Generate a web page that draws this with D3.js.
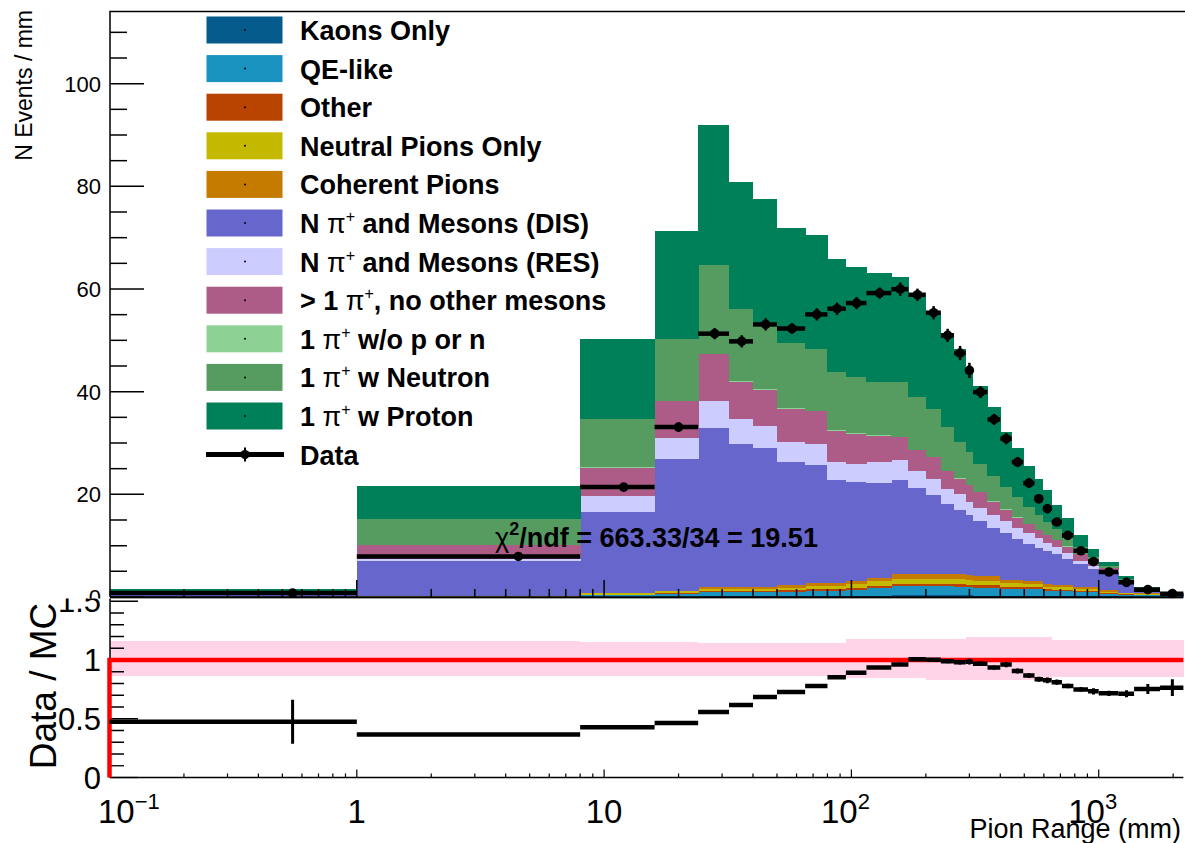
<!DOCTYPE html>
<html>
<head>
<meta charset="utf-8">
<script src="https://cdn.jsdelivr.net/npm/d3@7"></script>
<style>
  body { margin: 0; background: #fff; }
  svg { display: block; font-family: "Liberation Sans", Arial, Helvetica, sans-serif; }
</style>
</head>
<body>
<svg id="chart" width="1185" height="843"></svg>
<script>
// ---- Binning (pion range, mm) ----
const binEdges = [0.1, 1, 8, 16, 24, 32, 40, 50, 65, 80, 95, 115, 145, 170, 200, 230, 260,
  290, 310, 355, 400, 445, 495, 550, 595, 645, 710, 790, 905, 1000, 1200, 1390, 1770, 2200];

// ---- MC components, N events / mm (stacked bottom to top) ----
const kaonsOnly = [0, 0.01, 0.04, 0.05, 0.1, 0.1, 0.1, 0.12, 0.15, 0.15, 0.2, 0.25, 0.3, 0.3, 0.3, 0.3, 0.3,
  0.3, 0.28, 0.28, 0.25, 0.25, 0.25, 0.28, 0.2, 0.2, 0.2, 0.17, 0.17, 0.12, 0.08, 0.08, 0.02];
const qeLike = [0.01, 0.06, 0.3, 0.5, 0.8, 0.8, 0.8, 0.9, 1.0, 1.0, 1.2, 1.5, 1.8, 1.8, 1.75, 1.75, 1.7,
  1.65, 1.55, 1.55, 1.3, 1.3, 1.3, 1.3, 1.0, 0.95, 0.95, 0.75, 0.75, 0.5, 0.35, 0.3, 0.08];
const otherTopo = [0, 0.02, 0.06, 0.3, 0.25, 0.25, 0.25, 0.3, 0.35, 0.35, 0.4, 0.45, 0.45, 0.45, 0.45, 0.45, 0.45,
  0.45, 0.42, 0.42, 0.35, 0.35, 0.35, 0.32, 0.27, 0.27, 0.27, 0.22, 0.2, 0.15, 0.1, 0.1, 0.03];
const neutralPions = [0.01, 0.05, 0.34, 0.25, 0.4, 0.42, 0.42, 0.5, 0.6, 0.6, 0.7, 0.85, 1.0, 1.0, 1.0, 1.0, 1.0,
  0.95, 0.95, 0.95, 0.8, 0.75, 0.7, 0.7, 0.55, 0.52, 0.52, 0.45, 0.43, 0.3, 0.2, 0.18, 0.05];
const coherentPions = [0, 0.01, 0.04, 0.07, 0.33, 0.33, 0.33, 0.45, 0.56, 0.56, 0.6, 0.72, 0.93, 0.93, 0.98, 0.98, 1.0,
  0.95, 0.9, 0.9, 0.6, 0.6, 0.6, 0.6, 0.48, 0.46, 0.46, 0.36, 0.35, 0.23, 0.12, 0.14, 0.02];
const mesonsDIS = [0.58, 6.78, 15.76, 25.63, 31.02, 28.0, 27.2, 24.03, 23.14, 20.04, 19.4, 18.43, 18.22, 16.72, 15.42, 13.72, 12.55,
  11.6, 10.7, 9.3, 9.1, 8.05, 7.2, 6.4, 6.5, 6.0, 5.1, 4.55, 3.6, 3.5, 1.95, 0.55, 0.4];
const mesonsRES = [0.1, 0.53, 3.12, 4.16, 5.2, 4.8, 4.3, 3.9, 4.1, 3.6, 3.5, 4.1, 3.9, 3.4, 3.1, 2.9, 3.1,
  2.7, 2.5, 2.6, 2.4, 2.2, 2.1, 1.9, 1.6, 1.4, 1.1, 0.6, 0.5, 0.4, 0.25, 0.15, 0.06];
const multiPiPlus = [0.1, 2.72, 5.53, 7.14, 9.16, 7.17, 7.0, 6.5, 6.3, 6.1, 5.8, 5.1, 4.5, 4.0, 4.2, 3.4, 2.9,
  3.2, 3.1, 2.6, 2.2, 1.9, 1.7, 1.5, 1.4, 1.3, 1.2, 1.2, 0.7, 0.4, 0.25, 0.12, 0.06];
const onePiNoNucleon = [0, 0.02, 0.06, 0.1, 0.14, 0.13, 0.1, 0.1, 0.1, 0.1, 0.1, 0.1, 0.1, 0.1, 0.1, 0.1, 0.1,
  0.1, 0.1, 0.1, 0.1, 0.1, 0.1, 0.1, 0.1, 0.1, 0.05, 0.05, 0.05, 0.05, 0.05, 0.02, 0.01];
const onePiNeutron = [0.3, 4.92, 9.48, 12.0, 17.2, 14.2, 13.1, 12.6, 12.0, 11.3, 10.9, 10.3, 10.6, 10.2, 9.4, 8.6, 7.1,
  6.4, 5.5, 4.9, 4.4, 3.9, 3.3, 2.9, 2.5, 2.0, 1.75, 1.35, 0.95, 0.45, 0.25, 0.12, 0.05];
const onePiProton = [0.5, 6.43, 15.45, 21.1, 27.3, 24.6, 23.9, 22.4, 22.3, 22.0, 21.4, 21.4, 20.5, 19.6, 18.6, 18.3, 18.2,
  16.5, 15.2, 13.4, 10.6, 9.6, 8.0, 6.9, 6.2, 4.8, 3.8, 2.3, 1.7, 0.7, 0.4, 0.14, 0.07];

// ---- Data, N events / mm, with statistical errors ----
const dataValues = [0.76, 7.9, 21.41, 33.1, 51.3, 49.8, 53.1, 52.3, 55.05, 56.16, 57.26, 59.21, 59.97, 58.88, 55.38, 50.96, 47.52,
  44.14, 39.92, 34.6, 30.84, 26.29, 22.2, 19.14, 17.2, 14.6, 12.0, 9.0, 6.9, 4.87, 2.85, 1.43, 0.65];
const dataErrors = [0.3, 0.25, 0.4, 0.5, 0.7, 0.8, 0.8, 0.7, 0.8, 0.8, 0.8, 0.7, 0.9, 0.8, 0.9, 0.9, 1.0,
  1.1, 0.8, 0.7, 0.7, 0.6, 0.5, 0.5, 0.5, 0.4, 0.3, 0.25, 0.25, 0.15, 0.12, 0.08, 0.06];

// ---- MC systematic band on the ratio (low / high edge) ----
const bandLow = [0.867, 0.867, 0.864, 0.864, 0.864, 0.864, 0.864, 0.864, 0.864, 0.864, 0.844, 0.844, 0.844, 0.844, 0.83, 0.83, 0.83,
  0.83, 0.83, 0.83, 0.83, 0.83, 0.83, 0.83, 0.83, 0.858, 0.858, 0.858, 0.858, 0.858, 0.858, 0.858, 0.858];
const bandHigh = [1.161, 1.158, 1.156, 1.156, 1.142, 1.142, 1.142, 1.142, 1.142, 1.142, 1.176, 1.176, 1.176, 1.176, 1.18, 1.18, 1.18,
  1.193, 1.193, 1.193, 1.193, 1.193, 1.193, 1.193, 1.193, 1.17, 1.17, 1.17, 1.17, 1.17, 1.17, 1.17, 1.17];

// ---- Legend / categories ----
const categoryNames = ["Kaons Only", "QE-like", "Other", "Neutral Pions Only", "Coherent Pions",
  "N π+ and Mesons (DIS)", "N π+ and Mesons (RES)", "> 1 π+, no other mesons",
  "1 π+ w/o p or n", "1 π+ w Neutron", "1 π+ w Proton"];
const categoryColors = ["#045b8c", "#1b93c1", "#b94300", "#c5b900", "#c57b00",
  "#6666cc", "#ccccff", "#ad5c87", "#8dd294", "#569c60", "#008059"];
const seriesList = [kaonsOnly, qeLike, otherTopo, neutralPions, coherentPions, mesonsDIS,
  mesonsRES, multiPiPlus, onePiNoNucleon, onePiNeutron, onePiProton];

const yTopTicks = [0, 20, 40, 60, 80, 100];
const yRatioTicks = [0, 0.5, 1, 1.5];
const xDecades = [0.1, 1, 10, 100, 1000];

const chi2Tail = "/ndf = 663.33/34 = 19.51";

// ---------------------------------------------------------------
const svg = d3.select("#chart");
const nBins = binEdges.length - 1;

const x = d3.scaleLog().domain([0.1, 2200]).range([109.5, 1183.4]);
const yTop = d3.scaleLinear().domain([0, 114]).range([597, 11.8]);
const yRat = d3.scaleLinear().domain([0, 1.5]).range([777.5, 601.25]);

// stacked table
const table = d3.range(nBins).map(i => {
  const row = { i };
  seriesList.forEach((s, k) => row["c" + k] = s[i]);
  return row;
});
const keys = seriesList.map((s, k) => "c" + k);
const stacked = d3.stack().keys(keys)(table);
const mcTotal = d3.range(nBins).map(i => d3.sum(seriesList, s => s[i]));

const defs = svg.append("defs");
defs.append("clipPath").attr("id", "clipLow").append("rect")
  .attr("x", 0).attr("y", 598.5).attr("width", 1185).attr("height", 260);
defs.append("clipPath").attr("id", "clipTop").append("rect")
  .attr("x", 0).attr("y", 0).attr("width", 1185).attr("height", 598.5);

// ================= Ratio pad =================
const lowPad = svg.append("g").attr("clip-path", "url(#clipLow)");

// systematic band
lowPad.append("g").selectAll("rect").data(d3.range(nBins)).join("rect")
  .attr("x", i => x(binEdges[i]))
  .attr("width", i => x(binEdges[i + 1]) - x(binEdges[i]) + 0.3)
  .attr("y", i => yRat(bandHigh[i]))
  .attr("height", i => yRat(bandLow[i]) - yRat(bandHigh[i]))
  .attr("fill", "#ffd3e8")
  .attr("shape-rendering", "crispEdges");

// y axis (ratio)
lowPad.append("line").attr("x1", 110).attr("x2", 110).attr("y1", 598).attr("y2", yRat(0))
  .attr("stroke", "#000").attr("stroke-width", 1.5);
d3.range(0, 16).forEach(k => {
  const v = k / 10;
  const major = k % 5 === 0;
  lowPad.append("line").attr("x1", 110).attr("x2", 110 + (major ? 28 : 14))
    .attr("y1", yRat(v)).attr("y2", yRat(v)).attr("stroke", "#000").attr("stroke-width", 1.3);
});
lowPad.append("g").selectAll("text").data(yRatioTicks).join("text")
  .attr("x", 101).attr("y", d => yRat(d) + 11)
  .attr("text-anchor", "end").attr("font-size", 31).text(d => d);

// x axis (ratio)
lowPad.append("line").attr("x1", 110).attr("x2", 1183.4).attr("y1", yRat(0)).attr("y2", yRat(0))
  .attr("stroke", "#000").attr("stroke-width", 1.6);
xDecades.forEach(d => {
  for (let m = 1; m <= 9; m++) {
    const v = d * m;
    if (v < 0.1 || v > 2200) continue;
    lowPad.append("line").attr("x1", x(v)).attr("x2", x(v))
      .attr("y1", yRat(0)).attr("y2", yRat(0) - (m === 1 ? 8 : 4))
      .attr("stroke", "#000").attr("stroke-width", 1.2);
  }
});

// unity reference
lowPad.append("path")
  .attr("d", `M${x(0.1)},${yRat(0)}V${yRat(1)}H${x(2200)}`)
  .attr("fill", "none").attr("stroke", "#ff0000").attr("stroke-width", 4.5);

// data / MC
const ratioG = lowPad.append("g");
d3.range(nBins).forEach(i => {
  const r = dataValues[i] / mcTotal[i];
  const e = dataErrors[i] / mcTotal[i];
  ratioG.append("line").attr("x1", x(binEdges[i])).attr("x2", x(binEdges[i + 1]))
    .attr("y1", yRat(r)).attr("y2", yRat(r)).attr("stroke", "#000").attr("stroke-width", 4.5);
  const xc = x((binEdges[i] + binEdges[i + 1]) / 2);
  ratioG.append("line").attr("x1", xc).attr("x2", xc)
    .attr("y1", yRat(r - e)).attr("y2", yRat(r + e)).attr("stroke", "#000").attr("stroke-width", 3);
});

// x tick labels
function powerLabel(g, xPos, base, exp, anchor) {
  const t = g.append("text").attr("x", xPos).attr("y", 823).attr("font-size", 33)
    .attr("text-anchor", anchor);
  t.append("tspan").text(base);
  if (exp !== null) t.append("tspan").attr("font-size", 22).attr("dy", -14).text(exp);
}
powerLabel(svg, 98, "10", "\u22121", "start");
powerLabel(svg, x(1), "1", null, "middle");
powerLabel(svg, x(10), "10", null, "middle");
powerLabel(svg, x(100) - 6, "10", "2", "middle");
powerLabel(svg, x(1000) - 6, "10", "3", "middle");

svg.append("text").attr("x", 1181).attr("y", 838).attr("text-anchor", "end")
  .attr("font-size", 27).text("Pion Range (mm)");
svg.append("text").attr("transform", "translate(56,686) rotate(-90)")
  .attr("text-anchor", "middle").attr("font-size", 37).text("Data / MC");

// ================= Main pad =================
const mainPad = svg.append("g").attr("clip-path", "url(#clipTop)");

// stacked MC histograms
stacked.forEach((layer, k) => {
  mainPad.append("g").selectAll("rect").data(layer).join("rect")
    .attr("x", (d, i) => x(binEdges[i]))
    .attr("width", (d, i) => x(binEdges[i + 1]) - x(binEdges[i]) + 0.4)
    .attr("y", d => yTop(d[1]))
    .attr("height", d => Math.max(0, yTop(d[0]) - yTop(d[1])))
    .attr("fill", categoryColors[k])
    .attr("shape-rendering", "crispEdges");
});

// frame
mainPad.append("path").attr("d", `M110,${yTop(0)}V11.5H1185`)
  .attr("fill", "none").attr("stroke", "#000").attr("stroke-width", 1.5);
mainPad.append("line").attr("x1", 110).attr("x2", 1183.4).attr("y1", yTop(0) + 0.5).attr("y2", yTop(0) + 0.5)
  .attr("stroke", "#000").attr("stroke-width", 2.5);

// y ticks
d3.range(0, 115, 5).forEach(v => {
  const major = v % 20 === 0;
  mainPad.append("line").attr("x1", 110).attr("x2", 110 + (major ? 34 : 17))
    .attr("y1", yTop(v)).attr("y2", yTop(v)).attr("stroke", "#000").attr("stroke-width", 1.5);
});
mainPad.append("g").selectAll("text").data(yTopTicks).join("text")
  .attr("x", 101).attr("y", d => yTop(d) + 8)
  .attr("text-anchor", "end").attr("font-size", 22).text(d => d);

// x ticks drawn over the histograms
xDecades.forEach(d => {
  for (let m = 1; m <= 9; m++) {
    const v = d * m;
    if (v <= 0.1 || v > 2200) continue;
    mainPad.append("line").attr("x1", x(v)).attr("x2", x(v))
      .attr("y1", yTop(0)).attr("y2", yTop(0) - (m === 1 ? 17 : 8))
      .attr("stroke", "#000").attr("stroke-width", 1.5);
  }
});

svg.append("text").attr("transform", "translate(32,10) rotate(-90)")
  .attr("text-anchor", "end").attr("font-size", 23).text("N Events / mm");

// data points
const dataG = mainPad.append("g");
d3.range(nBins).forEach(i => {
  const yv = yTop(dataValues[i]);
  const xc = x((binEdges[i] + binEdges[i + 1]) / 2);
  dataG.append("line").attr("x1", x(binEdges[i])).attr("x2", x(binEdges[i + 1]))
    .attr("y1", yv).attr("y2", yv).attr("stroke", "#000").attr("stroke-width", 4.5);
  dataG.append("line").attr("x1", xc).attr("x2", xc)
    .attr("y1", yTop(dataValues[i] - dataErrors[i]) + 2).attr("y2", yTop(dataValues[i] + dataErrors[i]) - 2)
    .attr("stroke", "#000").attr("stroke-width", 2.5);
  dataG.append("circle").attr("cx", xc).attr("cy", yv).attr("r", 4.8).attr("fill", "#000");
});

// legend
const legend = svg.append("g");
const rowY = i => 30 + i * 38.6;
function labelWithPi(t, name) {
  const parts = name.split("π+");
  t.append("tspan").text(parts[0]);
  if (parts.length > 1) {
    t.append("tspan").attr("font-weight", "normal").text("π");
    t.append("tspan").attr("font-weight", "normal").attr("font-size", 16).attr("dy", -11).text("+");
    t.append("tspan").attr("dy", 11).text(parts[1]);
  }
}
categoryNames.forEach((name, i) => {
  legend.append("rect").attr("x", 206.5).attr("y", rowY(i) - 13.5).attr("width", 76).attr("height", 27)
    .attr("fill", categoryColors[i]);
  legend.append("circle").attr("cx", 245).attr("cy", rowY(i)).attr("r", 1).attr("fill", "#000");
  const t = legend.append("text").attr("x", 300).attr("y", rowY(i) + 10)
    .attr("font-size", 27).attr("font-weight", "bold");
  labelWithPi(t, name);
});
const dataRow = rowY(11);
legend.append("line").attr("x1", 206).attr("x2", 284).attr("y1", dataRow).attr("y2", dataRow)
  .attr("stroke", "#000").attr("stroke-width", 5);
legend.append("circle").attr("cx", 245).attr("cy", dataRow).attr("r", 4.6).attr("fill", "#000");
legend.append("line").attr("x1", 245).attr("x2", 245).attr("y1", dataRow - 7).attr("y2", dataRow + 7)
  .attr("stroke", "#000").attr("stroke-width", 2);
legend.append("text").attr("x", 300).attr("y", dataRow + 10)
  .attr("font-size", 27).attr("font-weight", "bold").text("Data");

// chi-square summary
const chi = svg.append("text").attr("x", 495).attr("y", 547).attr("font-size", 27).attr("font-weight", "bold");
chi.append("tspan").attr("font-weight", "normal").text("χ");
chi.append("tspan").attr("font-size", 18).attr("dy", -12).text("2");
chi.append("tspan").attr("dy", 12).text(chi2Tail);
</script>
</body>
</html>
